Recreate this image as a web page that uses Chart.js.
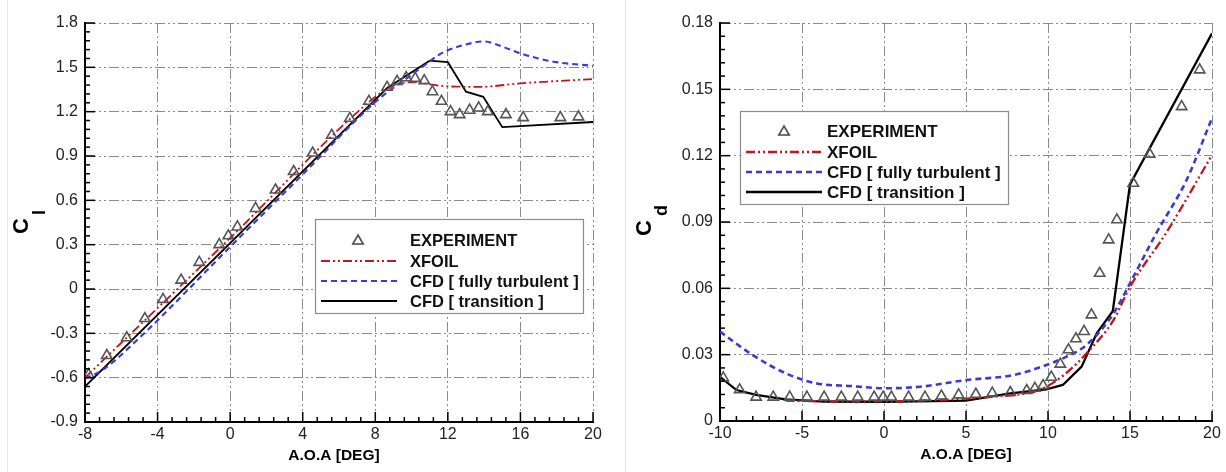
<!DOCTYPE html>
<html><head><meta charset="utf-8">
<script src="https://cdn.jsdelivr.net/npm/chart.js@4.4.1/dist/chart.umd.min.js"></script>
<style>
html,body{margin:0;padding:0;background:#fff;width:1226px;height:472px;overflow:hidden}
#c1{position:absolute;left:0;top:0}
#c2{position:absolute;left:610px;top:0}
.frame{position:absolute;top:0;width:1px;height:472px;background:#e4e4e4}
</style></head><body>
<div class="frame" style="left:7px"></div>
<div class="frame" style="left:625px"></div>
<canvas id="c1" width="610" height="472"></canvas>
<canvas id="c2" width="616" height="472"></canvas>
<script>
// ---------- Lift coefficient (left) ----------
const clExpAoa = [-7.8,-6.8,-5.7,-4.7,-3.7,-2.7,-1.7,-0.6,-0.1,0.4,1.4,2.5,3.5,4.55,5.6,6.6,7.65,8.65,9.2,9.7,10.2,10.7,11.15,11.65,12.15,12.65,13.2,13.7,14.2,15.2,16.15,18.2,19.2];
const clExpVal = [-0.58,-0.45,-0.33,-0.2,-0.07,0.06,0.18,0.3,0.36,0.42,0.545,0.67,0.795,0.92,1.04,1.155,1.27,1.365,1.405,1.43,1.425,1.41,1.335,1.27,1.2,1.18,1.21,1.225,1.2,1.18,1.16,1.16,1.165];
const clXfoilAoa = [-8,0,7.6,8.6,9.5,10.3,11.0,11.75,13.8,16,20];
const clXfoilVal = [-0.6,0.345,1.26,1.35,1.395,1.40,1.385,1.373,1.368,1.392,1.42];
const clTurbAoa = [-8,-7,-5,0,4,8,10,11,11.5,12,13,14,15,16,17,18,20];
const clTurbVal = [-0.605,-0.545,-0.33,0.285,0.775,1.265,1.45,1.54,1.585,1.615,1.655,1.675,1.64,1.595,1.56,1.535,1.51];
const clTranAoa = [-8,8.65,11.0,12.0,13.0,13.95,15.0,20];
const clTranVal = [-0.66,1.36,1.545,1.535,1.335,1.30,1.095,1.13];
const clXTicks = [-8,-4,0,4,8,12,16,20];
const clYTicks = [-0.9,-0.6,-0.3,0,0.3,0.6,0.9,1.2,1.5,1.8];

// ---------- Drag coefficient (right) ----------
const cdExpAoa = [-9.8,-8.8,-7.8,-6.75,-5.75,-4.7,-3.65,-2.6,-1.6,-0.6,-0.05,0.45,1.5,2.5,3.5,4.55,5.6,6.6,7.7,8.7,9.2,9.7,10.2,10.75,11.25,11.7,12.2,12.65,13.15,13.7,14.2,15.2,16.2,18.15,19.25];
const cdExpVal = [0.0195,0.0141,0.0108,0.0108,0.0108,0.0108,0.0108,0.0108,0.0108,0.0108,0.0108,0.0108,0.0108,0.0108,0.0113,0.0118,0.0121,0.0126,0.0129,0.0138,0.0148,0.016,0.0198,0.0257,0.0322,0.0372,0.0405,0.048,0.0668,0.0819,0.091,0.1075,0.1207,0.1422,0.1588];
const cdXfoilAoa = [-6,-3,0,3,6.66,9,9.9,11.1,12.35,14,15,17.2,20];
const cdXfoilVal = [0.0092,0.0089,0.0089,0.0094,0.011,0.013,0.0155,0.0216,0.0306,0.0457,0.0607,0.085,0.1203];
const cdTurbAoa = [-10,-8,-6,-4.1,-2,0,2.2,5,7.9,9.9,11.1,12.35,14,15,16.6,18.45,20];
const cdTurbVal = [0.0404,0.0298,0.0216,0.017,0.0158,0.0148,0.0155,0.0185,0.0208,0.0253,0.029,0.0344,0.0487,0.0623,0.0849,0.109,0.137];
const cdTranAoa = [-10,-9,-7.8,-6,-3.7,0,2,5,7.7,9.9,10.9,12.05,12.97,13.95,15.0,20];
const cdTranVal = [0.020,0.014,0.0118,0.0098,0.0088,0.0087,0.0089,0.0092,0.0125,0.0143,0.0163,0.0246,0.0397,0.0497,0.107,0.1753];
const cdXTicks = [-10,-5,0,5,10,15,20];
const cdYTicks = [0,0.03,0.06,0.09,0.12,0.15,0.18];

const seriesNames = ['EXPERIMENT','XFOIL','CFD [ fully turbulent ]','CFD [ transition ]'];

const pts = (xs, ys) => xs.map((x, i) => ({x, y: ys[i]}));
const FONT = "'Liberation Sans', Arial, Helvetica, sans-serif";

const decor = {
  id: 'decor',
  afterDatasetsDraw(chart, args, o) {
    const ctx = chart.ctx, L = o.legend;
    ctx.save();
    ctx.fillStyle = '#fff';
    ctx.fillRect(L.x, L.y, L.w, L.h);
    ctx.strokeStyle = '#8c8c8c'; ctx.lineWidth = 1.2;
    ctx.strokeRect(L.x + 0.5, L.y + 0.5, L.w, L.h);
    chart.data.datasets.forEach((ds, i) => {
      const y = L.rows[i];
      if (ds.showLine === false) {
        ctx.save();
        ctx.setLineDash([]);
        Chart.helpers.drawPoint(ctx, {pointStyle: 'triangle', radius: ds.pointRadius, borderWidth: ds.pointBorderWidth}, L.tri, y + 1);
        ctx.strokeStyle = ds.pointBorderColor; ctx.lineWidth = ds.pointBorderWidth;
        ctx.stroke();
        ctx.restore();
      } else {
        ctx.save();
        ctx.strokeStyle = ds.borderColor; ctx.lineWidth = ds.borderWidth;
        ctx.setLineDash(ds.borderDash || []);
        ctx.beginPath(); ctx.moveTo(L.s0, y); ctx.lineTo(L.s1, y); ctx.stroke();
        ctx.restore();
      }
      ctx.fillStyle = '#111';
      ctx.font = 'bold ' + L.fs + 'px ' + FONT;
      ctx.textAlign = 'left'; ctx.textBaseline = 'middle';
      ctx.fillText(ds.label, L.tx, y + 1);
    });
    ctx.restore();
  },
  afterDraw(chart, args, o) {
    const ctx = chart.ctx, xs = chart.scales.x, ys = chart.scales.y, ca = chart.chartArea;
    ctx.save();
    ctx.strokeStyle = '#000'; ctx.lineWidth = 1.5; ctx.setLineDash([]);
    const nx = Math.round((xs.max - xs.min) / o.xMinor);
    for (let i = 0; i <= nx; i++) {
      const v = xs.min + i * o.xMinor;
      const major = Math.abs(v / o.xMajor - Math.round(v / o.xMajor)) < 1e-6;
      const px = xs.getPixelForValue(v);
      ctx.beginPath(); ctx.moveTo(px, ca.bottom); ctx.lineTo(px, ca.bottom - (major ? 10 : 5)); ctx.stroke();
    }
    const ny = Math.round((ys.max - ys.min) / o.yMinor);
    for (let i = 0; i <= ny; i++) {
      const v = ys.min + i * o.yMinor;
      const major = Math.abs(v / o.yMajor - Math.round(v / o.yMajor)) < 1e-6;
      const py = ys.getPixelForValue(v);
      ctx.beginPath(); ctx.moveTo(ca.left, py); ctx.lineTo(ca.left + (major ? 10 : 5), py); ctx.stroke();
    }
    // y title with subscript
    ctx.fillStyle = '#000';
    ctx.textAlign = 'left'; ctx.textBaseline = 'alphabetic';
    ctx.save();
    ctx.translate(o.yt.cx, o.yt.cy); ctx.rotate(-Math.PI / 2);
    ctx.font = 'bold 22px ' + FONT; ctx.fillText('C', 0, 0);
    ctx.restore();
    ctx.save();
    ctx.translate(o.yt.sx, o.yt.sy); ctx.rotate(-Math.PI / 2);
    ctx.font = 'bold 18px ' + FONT; ctx.fillText(o.yt.sub, 0, 0);
    ctx.restore();
    // x title
    ctx.font = 'bold 15.5px ' + FONT; ctx.textAlign = 'center';
    ctx.fillText('A.O.A [DEG]', o.xt.x, o.xt.y);
    ctx.restore();
  }
};

function build(canvasId, c) {
  const exp = {label: seriesNames[0], data: pts(c.expA, c.expV), showLine: false,
    pointStyle: 'triangle', pointRadius: 6, pointHoverRadius: 6, pointBorderColor: '#555',
    pointBackgroundColor: 'rgba(0,0,0,0)', pointBorderWidth: 1.6};
  const xf = {label: seriesNames[1], data: pts(c.xfA, c.xfV), showLine: true, pointRadius: 0,
    borderColor: '#c0161c', borderWidth: c.lw, borderDash: [9,3,2,3,2,3], cubicInterpolationMode: 'monotone'};
  const tb = {label: seriesNames[2], data: pts(c.tbA, c.tbV), showLine: true, pointRadius: 0,
    borderColor: '#3b3bd0', borderWidth: c.lw + 0.3, borderDash: [6,4], cubicInterpolationMode: 'monotone'};
  const tr = {label: seriesNames[3], data: pts(c.trA, c.trV), showLine: true, pointRadius: 0,
    borderColor: '#000', borderWidth: c.lw, tension: 0};
  const axis = (min, max, ticks, fit, pad) => ({
    type: 'linear', min, max,
    afterBuildTicks: s => { s.ticks = ticks.map(v => ({value: v})); },
    afterFit: fit,
    ticks: {color: '#222', font: {family: FONT, size: 16}, padding: pad, callback: v => String(v), autoSkip: false, maxRotation: 0},
    grid: {color: '#8a8a8a', lineWidth: 1, drawTicks: false},
    border: {display: true, color: '#000', width: 2, dash: [10,3,2,3,2,3]}
  });
  return new Chart(document.getElementById(canvasId), {
    type: 'scatter',
    data: {datasets: [exp, xf, tb, tr]},
    options: {
      responsive: false, animation: false, devicePixelRatio: 1,
      layout: {padding: {left: 0, top: 23, right: c.padR, bottom: 0}},
      plugins: {legend: {display: false}, tooltip: {enabled: false}, decor: c.decor},
      scales: {
        x: axis(c.xMin, c.xMax, c.xTicks, s => { s.height = c.xH; }, 3),
        y: axis(c.yMin, c.yMax, c.yTicks, s => { s.width = c.yW; }, 7)
      }
    },
    plugins: [decor]
  });
}

build('c1', {
  expA: clExpAoa, expV: clExpVal, xfA: clXfoilAoa, xfV: clXfoilVal,
  tbA: clTurbAoa, tbV: clTurbVal, trA: clTranAoa, trV: clTranVal, lw: 1.8,
  xMin: -8, xMax: 20, yMin: -0.9, yMax: 1.8, xTicks: clXTicks, yTicks: clYTicks,
  padR: 17, xH: 50, yW: 85,
  decor: {xMinor: 0.8, xMajor: 4, yMinor: 0.06, yMajor: 0.3,
    legend: {x: 315, y: 219, w: 268, h: 94, rows: [240, 261, 281, 301], s0: 321, s1: 397, tri: 358, tx: 410, fs: 16.5},
    yt: {cx: 28, cy: 234, sx: 45, sy: 215, sub: 'l'},
    xt: {x: 334, y: 459.5}}
});
build('c2', {
  expA: cdExpAoa, expV: cdExpVal, xfA: cdXfoilAoa, xfV: cdXfoilVal,
  tbA: cdTurbAoa, tbV: cdTurbVal, trA: cdTranAoa, trV: cdTranVal, lw: 2.3,
  xMin: -10, xMax: 20, yMin: 0, yMax: 0.18, xTicks: cdXTicks, yTicks: cdYTicks,
  padR: 14, xH: 51, yW: 110,
  decor: {xMinor: 1, xMajor: 5, yMinor: 0.006, yMajor: 0.03,
    legend: {x: 130, y: 111, w: 268, h: 93, rows: [131, 152, 172, 192], s0: 136, s1: 212, tri: 174, tx: 217, fs: 17},
    yt: {cx: 41, cy: 236, sx: 57, sy: 216, sub: 'd'},
    xt: {x: 356, y: 459}}
});
</script>
</body></html>
